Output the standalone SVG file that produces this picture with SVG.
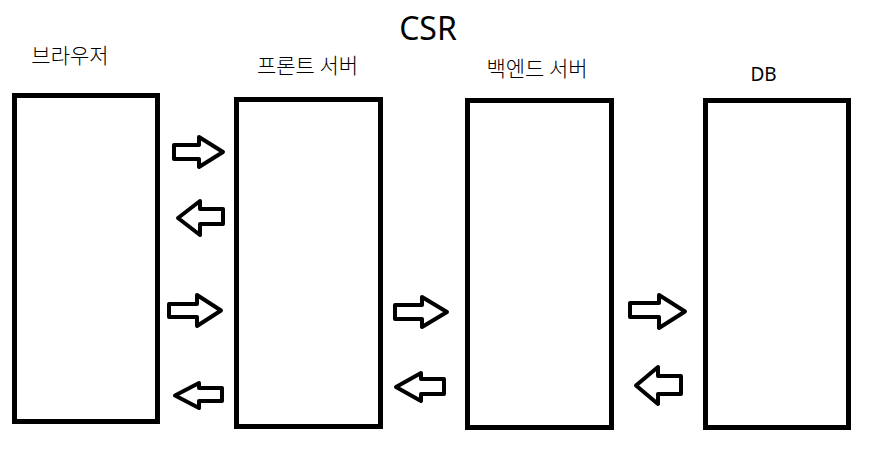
<svg xmlns="http://www.w3.org/2000/svg" width="891" height="468" viewBox="0 0 891 468">
<style>
.box{fill:#fff;stroke:#000;stroke-width:5}
.arr{fill:#fff;stroke:#000;stroke-width:4;stroke-linejoin:round}
.ko{font-family:"Noto Sans CJK KR","Noto Sans",sans-serif;font-size:21px;font-weight:300;fill:#000;text-anchor:middle}
.la{font-family:"Noto Sans","Noto Sans CJK KR",sans-serif;fill:#000;text-anchor:middle}
</style>
<rect width="891" height="468" fill="#fff"/>
<text class="la" x="428" y="40" font-size="32">CSR</text>
<g id="browser">
<rect class="box" x="14.5" y="95.5" width="143" height="326"/>
<text class="ko" x="70" y="63">브라우저</text>
</g>
<g id="front">
<rect class="box" x="236.5" y="99.5" width="144" height="327"/>
<text class="ko" x="307.5" y="73">프론트 서버</text>
</g>
<g id="backend">
<rect class="box" x="467.5" y="100.5" width="144" height="327"/>
<text class="ko" x="537" y="76">백엔드 서버</text>
</g>
<g id="db">
<rect class="box" x="705.5" y="100.5" width="143" height="327"/>
<text class="la" x="763.5" y="81" font-size="19">DB</text>
</g>
<g id="connectors">
<polygon class="arr" points="174,145 199,145 199,137 223,152 199,167 199,159 174,159"/>
<polygon class="arr" points="223,209 200,209 200,201 178,218 200,235 200,224 223,224"/>
<polygon class="arr" points="169,304 197,304 197,295 221,310.5 197,326 197,317 169,317"/>
<polygon class="arr" points="222,388 199,388 199,383 175,395.5 199,408 199,401 222,401"/>
<polygon class="arr" points="395,305 422,305 422,297 447,312 422,327 422,319 395,319"/>
<polygon class="arr" points="444,379 421,379 421,373 396,387 421,401 421,394 444,394"/>
<polygon class="arr" points="630,303 659,303 659,295 685,311.5 659,328 659,317 630,317"/>
<polygon class="arr" points="681,376 658,376 658,367 636,385.5 658,404 658,394 681,394"/>
</g>
</svg>
